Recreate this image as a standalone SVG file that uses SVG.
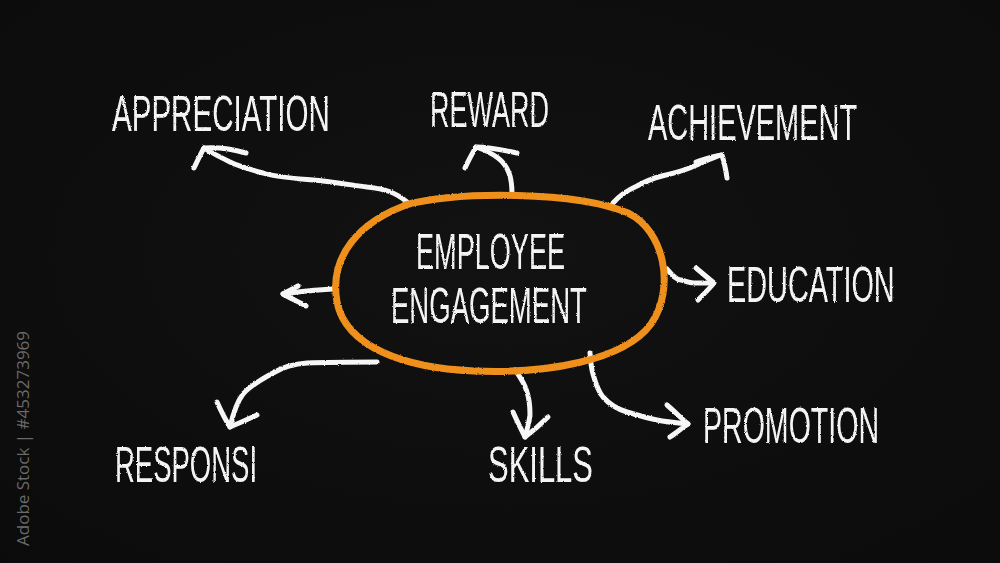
<svg xmlns="http://www.w3.org/2000/svg" width="1000" height="563" viewBox="0 0 1000 563">
  <defs>
    <filter id="chalk" x="-5%" y="-5%" width="110%" height="110%">
      <feTurbulence type="fractalNoise" baseFrequency="0.9" numOctaves="2" seed="3" result="n"/>
      <feDisplacementMap in="SourceGraphic" in2="n" scale="2.2" xChannelSelector="R" yChannelSelector="G"/>
    </filter>
    <radialGradient id="bg" cx="50%" cy="45%" r="75%">
      <stop offset="0" stop-color="#121212"/>
      <stop offset="1" stop-color="#0b0b0b"/>
    </radialGradient>
  </defs>
  <style>
    .lbl { font-family: "Liberation Sans", "DejaVu Sans", sans-serif; font-size: 50px; fill: #f4f4f4; }
    .arw { fill: none; stroke: #f6f6f6; stroke-width: 5; stroke-linecap: round; stroke-linejoin: round; }
    .ring { fill: none; stroke: #f0901d; stroke-width: 7; stroke-linecap: round; stroke-linejoin: round; }
    .wm { font-family: "Open Sans", "DejaVu Sans", sans-serif; font-size: 17px; fill: #8a8a8a; fill-opacity: 0.75; }
  </style>
  <rect width="1000" height="563" fill="url(#bg)"/>
  <text class="wm" transform="translate(29,546) rotate(-90)">Adobe Stock | #453273969</text>

  <g id="connectors" filter="url(#chalk)">
    <!-- appreciation -->
    <path class="arw" d="M407 202 C395 192 385 189 367 187 C345 184 325 181 313 180 C290 178 275 177 263 173 C245 168 236 165 230 162 C220 157 210 152 204 148"/>
    <path class="arw" d="M246 153 C232 149 217 147 204 148 C200 155 197 162 194 168"/>
    <!-- reward -->
    <path class="arw" d="M512 194 C512 184 511 178 509 173 C506 165 502 161 498 158 C490 152 482 149 476 147"/>
    <path class="arw" d="M517 153 C503 150 489 147 476 147 C472 154 468 161 465 168"/>
    <!-- achievement -->
    <path class="arw" d="M613 203 C620 195 628 190 637 186 C646 181 654 178 662 176 C675 173 683 171 692 167 C702 163 712 158 721 155"/>
    <path class="arw" d="M696 162 C705 159 713 156 722 155 C724 162 726 170 727 178"/>
    <!-- education -->
    <path class="arw" d="M667 269 C672 275 676 280 681 280 C686 281 688 283 694 283 C700 283 706 283 713 283"/>
    <path class="arw" d="M696 268 C702 273 708 278 714 283 C709 289 703 295 698 300"/>
    <!-- left short -->
    <path class="arw" d="M333 289 C318 290 300 291 283 294"/>
    <path class="arw" d="M298 286 C293 289 288 291 283 294 C290 298 299 302 306 306"/>
    <!-- responsi -->
    <path class="arw" d="M377 362 C355 362 330 362 307 363 C292 364 283 367 273 373 C262 379 250 386 243 394 C237 402 233 414 230 427"/>
    <path class="arw" d="M217 402 C221 411 225 419 230 427 C239 423 249 419 257 415"/>
    <!-- skills -->
    <path class="arw" d="M515 370 C521 378 525 385 527 392 C530 401 530 409 530 415 C529 423 527 430 525 437"/>
    <path class="arw" d="M513 412 C517 421 521 429 525 437 C533 431 541 424 548 417"/>
    <!-- promotion -->
    <path class="arw" d="M590 353 C591 362 591 368 593 374 C596 385 598 391 603 397 C610 405 617 409 627 412 C637 415 647 418 657 420 C667 422 678 423 688 424"/>
    <path class="arw" d="M667 405 C674 411 681 418 688 424 C682 428 676 433 670 437"/>
  </g>

  <g id="center" filter="url(#chalk)">
    <path class="ring" d="M405 205 C460 191 575 191 628 213 C664 230 676 288 651 324 C624 361 545 374 474 371 C404 368 346 347 337 302 C329 257 358 221 412 203"/>
    <text class="lbl" transform="translate(416,269) scale(0.542,1)">EMPLOYEE</text>
    <text class="lbl" transform="translate(391,323) scale(0.551,1)">ENGAGEMENT</text>
  </g>

  <g id="appreciation" filter="url(#chalk)">
    <text class="lbl" transform="translate(112,131) scale(0.591,1)">APPRECIATION</text>
  </g>
  <g id="reward" filter="url(#chalk)">
    <text class="lbl" transform="translate(430,127) scale(0.540,1)">REWARD</text>
  </g>
  <g id="achievement" filter="url(#chalk)">
    <text class="lbl" transform="translate(648,140) scale(0.579,1)">ACHIEVEMENT</text>
  </g>
  <g id="education" filter="url(#chalk)">
    <text class="lbl" transform="translate(727,302) scale(0.577,1)">EDUCATION</text>
  </g>
  <g id="promotion" filter="url(#chalk)">
    <text class="lbl" transform="translate(703,443) scale(0.571,1)">PROMOTION</text>
  </g>
  <g id="responsi" filter="url(#chalk)">
    <text class="lbl" transform="translate(115,482) scale(0.550,1)">RESPONSI</text>
  </g>
  <g id="skills" filter="url(#chalk)">
    <text class="lbl" transform="translate(488,482) scale(0.619,1)">SKILLS</text>
  </g>
</svg>
